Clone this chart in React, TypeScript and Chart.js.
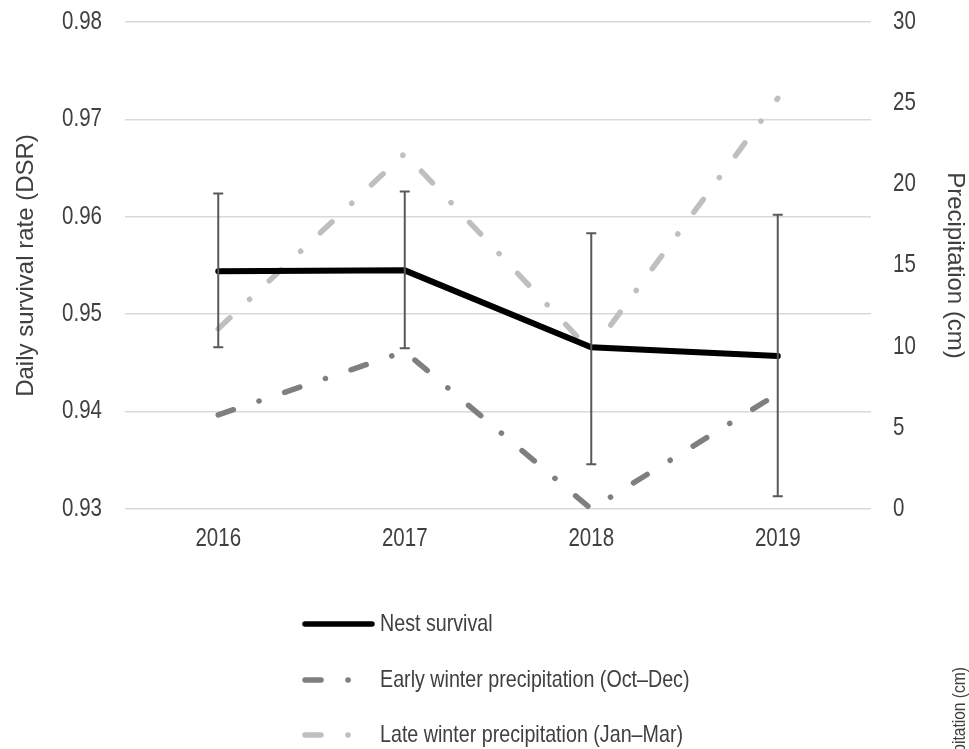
import React, { useEffect, useRef } from "react";
import { Chart, registerables } from "chart.js";

Chart.register(...registerables);

// Survey years
const years = ["2016", "2017", "2018", "2019"];
// Daily survival rate with its confidence limits
const dsr = [0.9544, 0.9545, 0.9466, 0.9457];
const dsrLower = [0.9466, 0.9465, 0.9346, 0.9313];
const dsrUpper = [0.9624, 0.9626, 0.9583, 0.9602];
// Seasonal precipitation totals (cm)
const earlyWinter = [5.8, 9.7, 0.0, 7.1];
const lateWinter = [11.1, 21.9, 9.7, 25.3];

const seriesNames = [
  "Nest survival",
  "Early winter precipitation (Oct\u2013Dec)",
  "Late winter precipitation (Jan\u2013Mar)",
];
const leftTitle = "Daily survival rate (DSR)";
const rightTitle = "Precipitation (cm)";

const FONT = "'Liberation Sans', Arial, sans-serif";
const NARROW = 0.82; // condensed face, Arial Narrow proportions
const TEXT = "#404040";
const BLACK = "#000000";
const EARLY = "#7f7f7f";
const LATE = "#bfbfbf";
const DASH_DOT = [16, 27, 0.1, 27];
const LINE_W = 5.5;

function narrowText(
  ctx: CanvasRenderingContext2D,
  text: string,
  x: number,
  y: number,
  size: number,
  align: CanvasTextAlign,
  rotate = false
) {
  ctx.save();
  ctx.translate(x, y);
  if (rotate) ctx.rotate(-Math.PI / 2);
  ctx.scale(NARROW, 1);
  ctx.font = `${size}px ${FONT}`;
  ctx.fillStyle = TEXT;
  ctx.textAlign = align;
  ctx.textBaseline = "middle";
  ctx.fillText(text, 0, 0);
  ctx.restore();
}

// Tick labels in a condensed face, placed from the scales' own ticks
const condensedTicks = {
  id: "condensedTicks",
  afterDraw(chart: any) {
    const { ctx, chartArea } = chart;
    const x = chart.scales.x;
    const y = chart.scales.y;
    const y1 = chart.scales.y1;
    y.ticks.forEach((t: any) => {
      narrowText(ctx, Number(t.value).toFixed(2), chartArea.left - 23, y.getPixelForValue(t.value), 25, "right");
    });
    y1.ticks.forEach((t: any) => {
      narrowText(ctx, String(t.value), chartArea.right + 22, y1.getPixelForValue(t.value), 25, "left");
    });
    x.ticks.forEach((t: any, i: number) => {
      narrowText(ctx, years[i], x.getPixelForValue(i), chartArea.bottom + 30, 25, "center");
    });
  },
};

const errorBars = {
  id: "errorBars",
  afterDatasetsDraw(chart: any) {
    const { ctx } = chart;
    const x = chart.scales.x;
    const y = chart.scales.y;
    ctx.save();
    ctx.strokeStyle = "#595959";
    ctx.lineWidth = 2;
    ctx.setLineDash([]);
    for (let i = 0; i < years.length; i++) {
      const px = x.getPixelForValue(i);
      const top = y.getPixelForValue(dsrUpper[i]);
      const bot = y.getPixelForValue(dsrLower[i]);
      ctx.beginPath();
      ctx.moveTo(px, top);
      ctx.lineTo(px, bot);
      ctx.moveTo(px - 5, top);
      ctx.lineTo(px + 5, top);
      ctx.moveTo(px - 5, bot);
      ctx.lineTo(px + 5, bot);
      ctx.stroke();
    }
    ctx.restore();
  },
};

const legendAndNotes = {
  id: "legendAndNotes",
  afterDraw(chart: any) {
    const { ctx } = chart;
    const items = [
      { color: BLACK, dash: [] as number[], y: 624 },
      { color: EARLY, dash: DASH_DOT, y: 680 },
      { color: LATE, dash: DASH_DOT, y: 735 },
    ];
    items.forEach((it, i) => {
      ctx.save();
      ctx.strokeStyle = it.color;
      ctx.lineWidth = LINE_W;
      ctx.lineCap = "round";
      ctx.setLineDash(it.dash);
      ctx.beginPath();
      ctx.moveTo(305, it.y);
      ctx.lineTo(372, it.y);
      ctx.stroke();
      ctx.restore();
      narrowText(ctx, seriesNames[i], 380, it.y, 24, "left");
    });
    // Secondary axis label repeated at lower right edge
    narrowText(ctx, rightTitle, 960, 667, 19, "right", true);
  },
};

export default function App() {
  const ref = useRef<HTMLCanvasElement | null>(null);

  useEffect(() => {
    if (!ref.current) return;
    const titleFont = { family: FONT, size: 24 };
    const chart = new Chart(ref.current, {
      type: "line",
      data: {
        labels: years,
        datasets: [
          {
            label: seriesNames[0],
            data: dsr,
            yAxisID: "y",
            borderColor: BLACK,
            borderWidth: 6,
            borderCapStyle: "round",
            pointRadius: 0,
            tension: 0,
          },
          {
            label: seriesNames[1],
            data: earlyWinter,
            yAxisID: "y1",
            borderColor: EARLY,
            borderWidth: LINE_W,
            borderDash: DASH_DOT,
            borderCapStyle: "round",
            pointRadius: 0,
            tension: 0,
          },
          {
            label: seriesNames[2],
            data: lateWinter,
            yAxisID: "y1",
            borderColor: LATE,
            borderWidth: LINE_W,
            borderDash: DASH_DOT,
            borderCapStyle: "round",
            pointRadius: 0,
            tension: 0,
          },
        ],
      },
      options: {
        animation: false,
        responsive: true,
        maintainAspectRatio: false,
        layout: { padding: { top: 22, left: 0, right: 0, bottom: 0 } },
        plugins: { legend: { display: false }, tooltip: { enabled: false } },
        scales: {
          x: {
            offset: true,
            grid: { display: false, drawTicks: false },
            border: { display: false },
            ticks: { display: false },
            afterFit: (s: any) => {
              s.height = 240;
            },
          },
          y: {
            position: "left",
            min: 0.93,
            max: 0.98,
            grid: { color: "#d9d9d9", lineWidth: 1.5, drawTicks: false },
            border: { display: false },
            ticks: { stepSize: 0.01, display: false },
            title: {
              display: true,
              text: leftTitle,
              font: titleFont,
              color: TEXT,
              padding: { top: 12, bottom: 0 },
            },
            afterFit: (s: any) => {
              s.width = 125;
            },
          },
          y1: {
            position: "right",
            min: 0,
            max: 30,
            grid: { display: false, drawTicks: false },
            border: { display: false },
            ticks: { stepSize: 5, display: false },
            title: {
              display: true,
              text: rightTitle,
              font: titleFont,
              color: TEXT,
              padding: { top: 0, bottom: 0 },
            },
            afterFit: (s: any) => {
              s.width = 98;
            },
          },
        },
      },
      plugins: [errorBars, condensedTicks, legendAndNotes],
    });
    return () => chart.destroy();
  }, []);

  return (
    <div style={{ position: "absolute", left: 0, top: 0, width: 969, height: 749, background: "#fff" }}>
      <canvas ref={ref} />
    </div>
  );
}
